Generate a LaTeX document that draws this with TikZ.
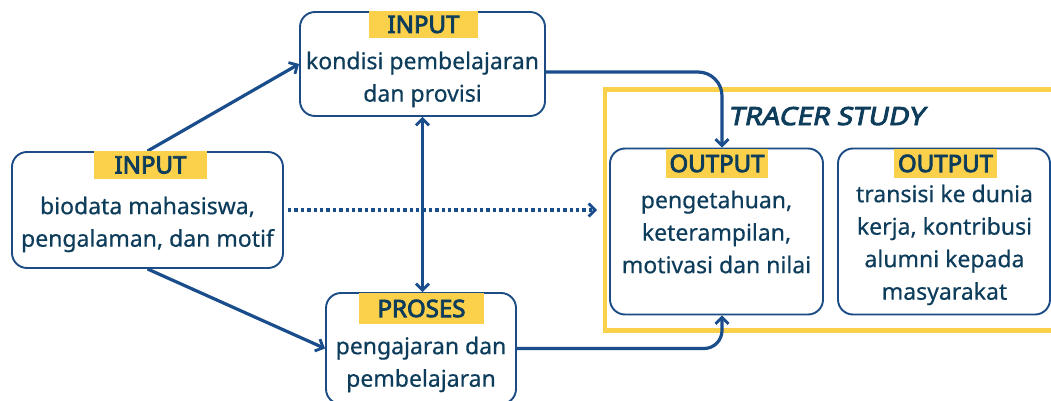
\documentclass[tikz,border=0pt]{standalone}
\usepackage{fontspec}
\setmainfont{Noto Sans}[FakeBold=0.5]
\newfontfamily\lblfont{Noto Sans}[FakeBold=3.5]
\newfontfamily\tsfont{Noto Sans}[FakeBold=3.5,FakeSlant=0.2,FakeStretch=1.12]
\usetikzlibrary{arrows.meta}
\definecolor{bord}{HTML}{1C4C85}
\definecolor{arrc}{HTML}{1A4D8C}
\definecolor{txt}{HTML}{0E3D5C}
\definecolor{yel}{HTML}{FBD14B}
\tikzset{
  x=1pt,y=-1pt,
  box/.style={draw=bord,line width=1.9pt,rounded corners=15pt,fill=white,inner sep=0pt},
  lbl/.style={fill=yel,text=txt,font=\fontsize{24}{26}\selectfont\lblfont,inner sep=0pt},
  body/.style={text=txt,font=\fontsize{23}{32.5}\selectfont,align=center,inner sep=0pt,anchor=north},
  tip/.style={-{Straight Barb[length=6.5pt,width=13pt,line width=2.8pt]}},
  arr/.style={draw=arrc,line width=3.2pt,tip},
}
\begin{document}
\begin{tikzpicture}
\useasboundingbox (0,0) rectangle (1051,401);
\clip (0,0) rectangle (1051,401);
\fill[white] (0,0) rectangle (1051,401);
% tracer study frame
\draw[yel,line width=4.5pt] (605,89.5) rectangle (1075,330.5);
\node[text=txt,font=\fontsize{25}{27}\selectfont\tsfont,anchor=base west,inner sep=0pt] (ts) at (728,125) {TRACER STUDY};
% boxes
\node[box,minimum width=245pt,minimum height=104pt] (A) at (422.5,64) {};
\node[box,minimum width=271pt,minimum height=116pt] (B) at (147.5,210) {};
\node[box,minimum width=190pt,minimum height=111pt] (C) at (421,348.5) {};
\node[box,minimum width=213pt,minimum height=166pt] (D) at (716.5,231.5) {};
\node[box,minimum width=212pt,minimum height=166pt] (E) at (944,231.5) {};
% texts
\node[body] (At) at (422.5,51.5) {kondisi pembelajaran\\dan provisi};
\node[body] (Bt) at (147.5,196.5) {biodata mahasiswa,\\pengalaman, dan motif};
\node[body] (Ct) at (421,336.5) {pengajaran dan\\pembelajaran};
\node[body] (Dt) at (716.5,190.5) {pengetahuan,\\keterampilan,\\motivasi dan nilai};
\node[body] (Et) at (944.5,184.5) {transisi ke dunia\\kerja, kontribusi\\alumni kepada\\masyarakat};
% connectors
\coordinate (dotend) at (597,210);
\draw[arr] (B.north) -- (A.west);
\draw[arr] (B.south) -- (C.west);
\draw[arr,{Straight Barb[length=6.5pt,width=13pt,line width=2.8pt]}-{Straight Barb[length=6.5pt,width=13pt,line width=2.8pt]}] (A.south) -- (A.south |- C.north);
\draw[arr,rounded corners=24pt] ([yshift=-8pt]A.east) -| ([xshift=5.5pt]D.north);
\draw[arr,rounded corners=18pt] (C.east) -| ([xshift=5.5pt]D.south);
\draw[draw=arrc,line width=3.4pt,dash pattern=on 3.4pt off 3pt,tip] ([xshift=4pt]B.east) -- (dotend);
% labels
\node[lbl,minimum width=109pt,minimum height=27pt] (Al) at (423.5,24.5) {INPUT};
\node[lbl,minimum width=113pt,minimum height=28pt] (Bl) at (150.5,165) {INPUT};
\node[lbl,minimum width=125pt,minimum height=31pt] (Cl) at (421.5,308.5) {PROSES};
\node[lbl,minimum width=102pt,minimum height=29pt] (Dl) at (717,163.5) {OUTPUT};
\node[lbl,minimum width=103pt,minimum height=29pt] (El) at (945.5,163.5) {OUTPUT};
\end{tikzpicture}
\end{document}
